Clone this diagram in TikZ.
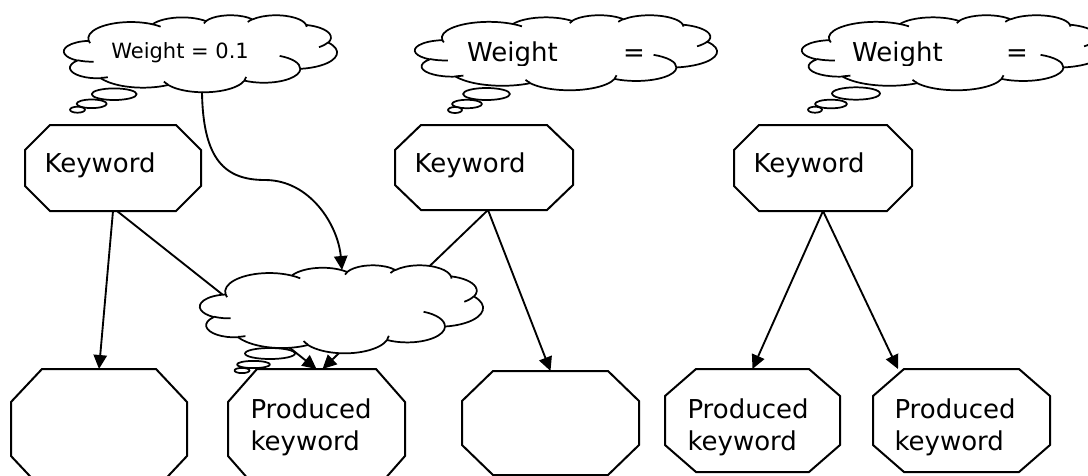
\documentclass[tikz,border=0pt]{standalone}
\usepackage{fontspec}
\setmainfont{DejaVu Sans}
\usetikzlibrary{arrows.meta,calc}

\tikzset{
  boxarea/.style={rectangle, draw=none, inner sep=0pt, outer sep=0pt},
  edgeline/.style={line width=1.5pt, line join=miter},
  cloudline/.style={line width=1.3pt, line join=round},
  link/.style={line width=1.4pt, -{Triangle[length=10.5pt,width=10pt]}},
  txt/.style={anchor=base west, inner sep=0pt, outer sep=0pt, font=\fontsize{19.5}{24}\selectfont},
  smalltxt/.style={txt, font=\fontsize{15.75}{19}\selectfont},
}

% invisible rectangular area given by its corners (px, y downwards)
\newcommand\boxnode[5]{\node[boxarea, minimum width={((#4)-(#2))*0.75pt}, minimum height={((#5)-(#3))*0.75pt}] (#1) at ({((#2)+(#4))/2},{((#3)+(#5))/2}) {};}

% octagon drawn on the corners of a named area, chamfer #2 x #3
\newcommand\octo[3]{\filldraw[edgeline, fill=white]
  ($(#1.north west)+(#2,0)$) -- ($(#1.north east)+(-#2,0)$) --
  ($(#1.north east)+(0,#3)$) -- ($(#1.south east)+(0,-#3)$) --
  ($(#1.south east)+(-#2,0)$) -- ($(#1.south west)+(#2,0)$) --
  ($(#1.south west)+(0,-#3)$) -- ($(#1.north west)+(0,#3)$) -- cycle;}

% elliptical arc: radii #1,#2, start angle #3, sweep #4 (angles of the direction from the centre)
\newcommand\ca[4]{arc[start angle={atan2(#1*sin(#3),#2*cos(#3))},
  delta angle={Mod(atan2(#1*sin(#3+#4),#2*cos(#3+#4))-atan2(#1*sin(#3),#2*cos(#3)),360)},
  x radius=#1, y radius=#2]}

% cloud outline in a 43.2 x 43.2 unit box: name, left, top, width, height
\newcommand\wcloud[5]{%
  \boxnode{#1}{#2}{#3}{#2+#4}{#3+#5}
  \pgfmathsetmacro\cldx{#4*0.75/43.2}
  \pgfmathsetmacro\cldy{#5*0.75/43.2}
  \begin{scope}[shift={(#1.north west)}, x=\cldx pt, y=-\cldy pt]
    \filldraw[cloudline, fill=white] (3.900,14.370)
      \ca{6.753}{9.190}{-190.4875}{123.7805}
      \ca{5.333}{7.267}{-144.1024}{89.9452}
      \ca{4.365}{5.945}{-145.8079}{99.7230}
      \ca{4.857}{6.595}{-130.9861}{117.2417}
      \ca{5.333}{7.273}{-78.7089}{109.0269}
      \ca{6.775}{9.220}{-46.2673}{130.2690}
      \ca{5.785}{7.867}{0.6250}{114.0333}
      \ca{6.752}{9.215}{22.4516}{115.1726}
      \ca{7.720}{10.543}{66.2426}{75.7110}
      \ca{4.360}{5.918}{-274.9421}{146.7356}
      \ca{4.345}{5.945}{-246.8285}{152.5189}
      -- cycle;
    \draw[cloudline]
      (4.693,26.177) \ca{4.345}{5.945}{86.7420}{26.4295}
      (6.928,34.899) \ca{4.360}{5.918}{73.6105}{11.4475}
      (16.478,39.090) \ca{6.752}{9.215}{137.6242}{14.0811}
      (28.827,34.751) \ca{6.752}{9.215}{6.4533}{15.9984}
      (34.129,22.954) \ca{5.785}{7.867}{-70.2924}{70.9174}
      (41.798,15.354) \ca{5.333}{7.273}{30.3180}{27.7515}
      (38.324,5.426) \ca{4.857}{6.595}{-13.7443}{14.8589}
      (29.078,3.952) \ca{4.857}{6.595}{-149.1815}{18.1954}
      (22.141,4.720) \ca{4.365}{5.945}{-163.4943}{17.6864}
      (14.000,5.192) \ca{6.753}{9.190}{-66.7070}{12.3194}
      (4.127,15.789) \ca{6.753}{9.190}{157.6544}{11.8582};
  \end{scope}}

% small thought bubble
\newcommand\bubble[4]{\filldraw[cloudline, fill=white] (#1,#2) ellipse [x radius=#3, y radius=#4];}

\begin{document}
\begin{tikzpicture}[x=0.75pt, y=-0.75pt]
  \useasboundingbox (0,0) rectangle (1088,475);
  \fill[white] (0,0) rectangle (1088,475);
  \clip (0,0) rectangle (1088,475);

  % keyword boxes
  \boxnode{k1}{25}{125}{201}{211}   \octo{k1}{25}{25}
  \boxnode{k2}{395}{125}{573}{210}  \octo{k2}{26}{25}
  \boxnode{k3}{734}{125}{912}{211}  \octo{k3}{25}{25}

  % produced keyword boxes
  \boxnode{b1}{11}{369}{187}{489}   \octo{b1}{31}{33}
  \boxnode{b2}{228}{369}{405}{489}  \octo{b2}{29}{33}
  \boxnode{b3}{462}{371}{639}{475}  \octo{b3}{31}{30}
  \boxnode{b4}{665}{369}{840}{472}  \octo{b4}{31}{27}
  \boxnode{b5}{873}{369}{1050}{472} \octo{b5}{31}{27}

  % links
  \draw[link] (k1.south) -- (b1.north);
  \draw[link] ($(k1.south)+(4,0)$) -- (b2.north);
  \draw[link] ($(k2.south)+(4,0)$) -- ($(b2.north)+(6,0)$);
  \draw[link] ($(k2.south)+(4,0)$) -- (b3.north);
  \draw[link] (k3.south) -- (b4.north);
  \draw[link] (k3.south) -- ($(b5.north west)+(25,0)$);

  % thought clouds
  \wcloud{c1}{64}{15}{273}{77}
  \bubble{114.2}{94.2}{22.5}{5.8}
  \bubble{91.7}{103.8}{15}{4.3}
  \bubble{77.5}{109.7}{7.5}{3}

  \wcloud{c2}{415}{15}{302}{75}
  \bubble{486.5}{94}{23.5}{6}
  \bubble{467}{104}{15}{4.2}
  \bubble{455}{110}{7}{3}

  \wcloud{c3}{802}{15}{302}{75}
  \bubble{856}{93.5}{24}{6.2}
  \bubble{831}{104}{16}{4.3}
  \bubble{815}{109.7}{7}{3}

  \wcloud{c4}{200}{265}{283}{88}
  \bubble{270}{353.5}{25}{5.5}
  \bubble{253.5}{364.5}{16.5}{3.6}
  \bubble{242}{370.5}{7.5}{2.6}

  % weight arrow
  \draw[link] ($(c1.south west)+(138,0)$)
    .. controls (203,160) and (225,180) .. (265,180)
    .. controls (310,180) and (338,225) .. ($(c4.north west)+(142,5)$);

  % texts
  \node[smalltxt] (w1) at (111.3,58) {Weight = 0.1};
  \begin{scope}
    \clip (415,0) rectangle (717,65.5);
    \node[txt] (w2) at (467.2,61.5) {Weight\hspace{49pt}=};
  \end{scope}
  \begin{scope}
    \clip (802,0) rectangle (1088,65.5);
    \node[txt] (w3) at (852.2,61.5) {Weight\hspace{47.5pt}=};
  \end{scope}

  \node[txt] (k1t) at (44.5,172.5) {Keyword};
  \node[txt] (k2t) at (414.5,172.5) {Keyword};
  \node[txt] (k3t) at (753.5,172.5) {Keyword};

  \node[txt] (b2t) at (250.5,418) {Produced};
  \node[txt] (b2u) at (250.5,450) {keyword};
  \node[txt] (b4t) at (687.5,418) {Produced};
  \node[txt] (b4u) at (687.5,450) {keyword};
  \node[txt] (b5t) at (894.5,418) {Produced};
  \node[txt] (b5u) at (894.5,450) {keyword};
\end{tikzpicture}
\end{document}
